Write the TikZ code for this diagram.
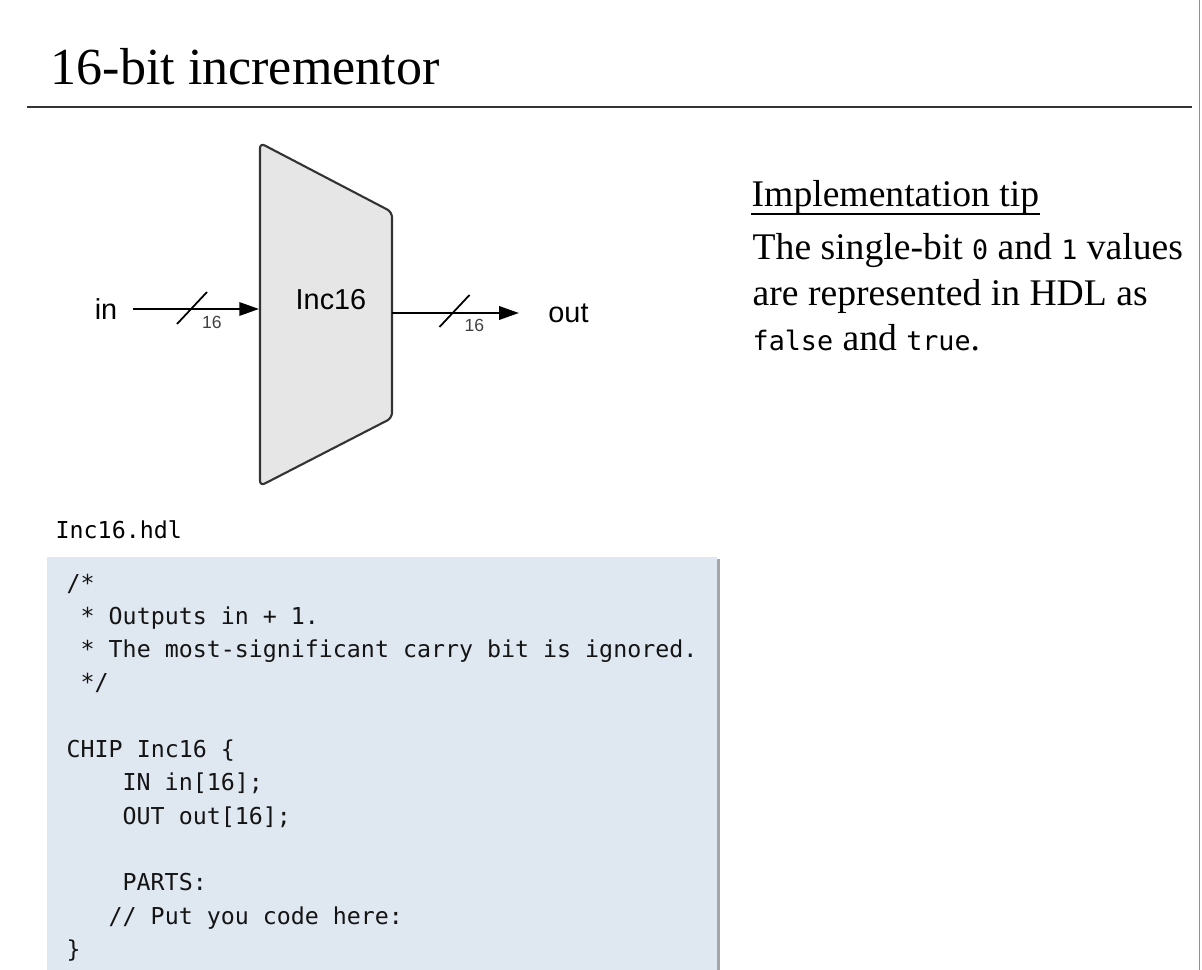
\documentclass[tikz,border=0pt]{standalone}
\usepackage{fontspec}
\setmainfont{Liberation Serif}
\newfontfamily\diagfont{Liberation Sans}
\newfontfamily\codefont{DejaVu Sans Mono}
\usetikzlibrary{arrows.meta,calc}

\definecolor{codebg}{HTML}{DFE7F1}
\definecolor{codeedge}{HTML}{A4A6AA}
\definecolor{chipfill}{HTML}{E6E6E6}
\definecolor{slideedge}{HTML}{8A9099}

\tikzset{
  heading/.style={anchor=base west, inner sep=0pt, font=\fontsize{14.8}{17}\selectfont},
  tiptext/.style={anchor=base west, inner sep=0pt, font=\fontsize{10.7}{13}\selectfont},
  codeline/.style={anchor=base west, inner sep=0pt, text=black!92, font=\codefont\fontsize{6.62}{8}\selectfont},
  chipbody/.style={draw=black!80, fill=chipfill, line width=0.6pt, rounded corners=1.5pt},
  chiplabel/.style={inner sep=0pt, font=\diagfont\fontsize{8.2}{10}\selectfont},
  portlabel/.style={inner ysep=0pt, font=\diagfont\fontsize{8.2}{10}\selectfont},
  wire/.style={line width=0.6pt, -{Triangle[length=5.6pt, width=3.8pt]}},
  slashmark/.style={line width=0.5pt},
  buswidth/.style={inner sep=0pt, text=black!75, font=\diagfont\fontsize{5}{6}\selectfont}
}

% bus slash with its width: point on the wire, node name, width
\newcommand{\busmark}[3]{%
  \draw[slashmark] ($(#1)+(-15,16)$) -- ($(#1)+(15,-16)$);
  \node[buswidth] (#2) at ($(#1)+(20,14)$) {#3};
}

\begin{document}
\begin{tikzpicture}[x=0.01cm, y=-0.01cm]
  \useasboundingbox (0,0) rectangle (1202,970);

  % slide title and rule
  \node[heading] (title) at (50,85) {16-bit incrementor};
  \draw[line width=0.6pt, black!80] (27,107) -- (1192,107);
  \draw[line width=0.45pt, slideedge] (1199.5,0) -- (1199.5,970);

  % the chip
  \draw[chipbody] (260,143) -- (392,212) -- (392,418) -- (260,486) -- cycle;
  \node[chiplabel] (chip) at (331,300) {Inc16};
  \coordinate (chip-in) at (259,309);
  \coordinate (chip-out) at (392,313);

  \node[portlabel, inner xsep=4.3pt] (inport) at (106,309) {in};
  \node[portlabel, inner xsep=8.2pt] (outport) at (568.5,313) {out};

  \draw[wire] (inport) -- (chip-in);
  \draw[wire] (chip-out) -- (outport);

  \coordinate (in-bus) at (192,308);
  \coordinate (out-bus) at (454.5,311);
  \busmark{in-bus}{in-width}{16}
  \busmark{out-bus}{out-width}{16}

  % implementation tip
  \node[tiptext] (tiphead) at (751,207) {Implementation tip};
  \draw[line width=0.45pt] ($(tiphead.base west)+(0,7)$) -- ($(tiphead.base east)+(0,7)$);
  \node[tiptext] (tip1) at (752,260)
    {The single-bit {\codefont\fontsize{7.6}{9}\selectfont 0} and {\codefont\fontsize{7.6}{9}\selectfont 1} values};
  \node[tiptext] (tip2) at (752,306) {are represented in HDL as};
  \node[tiptext] (tip3) at (752,351)
    {{\codefont\fontsize{7.6}{9}\selectfont false} and {\codefont\fontsize{7.6}{9}\selectfont true}.};

  % HDL file
  \node[codeline, text=black] (fname) at (55,539) {Inc16.hdl};
  \fill[codebg] (47,557) rectangle (717,970);
  \fill[codeedge] (717,559) rectangle (720,970);
  \foreach \r/\c/\t in {0/0/{/*}, 1/1/{* Outputs in + 1.},
      2/1/{* The most-significant carry bit is ignored.}, 3/1/{*/},
      5/0/{CHIP Inc16 \{}, 6/4/{IN in[16];}, 7/4/{OUT out[16];},
      9/4/{PARTS:}, 10/3/{// Put you code here:}, 11/0/{\}}} {
    \node[codeline] (code-\r) at (66+\c*14, 591+\r*33.3) {\t};
  }
\end{tikzpicture}
\end{document}
